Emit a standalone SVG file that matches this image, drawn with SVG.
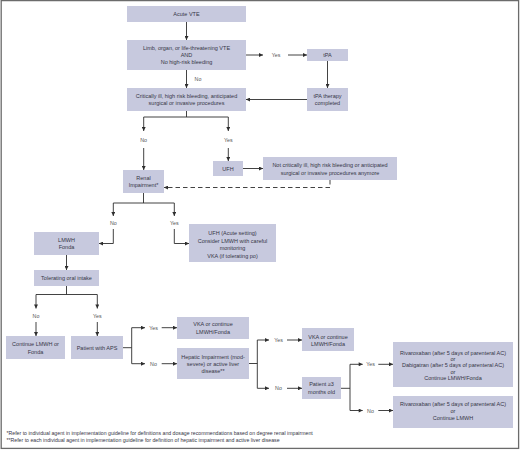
<svg xmlns="http://www.w3.org/2000/svg" width="520" height="450" viewBox="0 0 520 450">
<defs>
<marker id="ah" viewBox="0 0 10 10" refX="10" refY="5" markerWidth="4.5" markerHeight="4" markerUnits="userSpaceOnUse" orient="auto">
<path d="M0,0 L10,5 L0,10 z" fill="#2e2e2e"/>
</marker>
<style>
.box{fill:#c7c9de;}
.t{font-family:"Liberation Sans",Arial,sans-serif;font-size:5.5px;fill:#363646;text-anchor:middle;dominant-baseline:central;}
.lbl{font-family:"Liberation Sans",Arial,sans-serif;font-size:5.3px;fill:#555;text-anchor:middle;dominant-baseline:central;}
.fn{font-family:"Liberation Sans",Arial,sans-serif;font-size:5.2px;fill:#363646;dominant-baseline:central;}
.c{fill:none;stroke:#2e2e2e;stroke-width:0.9;}
.a{marker-end:url(#ah);}
.d{stroke-dasharray:4.5,3;}
</style>
</defs>
<rect x="0" y="0" width="520" height="450" fill="#fff"/>
<rect x="1.2" y="0.6" width="517.4" height="447.8" fill="none" stroke="#6b6b6b" stroke-width="1.3"/>

<g id="connectors">
<path class="c a" d="M186.5,22 V40"/>
<path class="c a" d="M246,55 H263"/>
<path class="c a" d="M288,55 H307"/>
<path class="c a" d="M327.5,61 V88"/>
<path class="c a" d="M307,99.5 H246"/>
<path class="c a" d="M186.5,70 V88"/>
<path class="c" d="M186.5,111 V117 M143.7,117 H228.3"/>
<path class="c a" d="M143.7,117 V131"/>
<path class="c a" d="M228.3,117 V131"/>
<path class="c a" d="M143.7,148 V170"/>
<path class="c a" d="M228.3,148 V161"/>
<path class="c a" d="M243,168.5 H263"/>
<path class="c a d" d="M330,180 V187.5 H164"/>
<path class="c" d="M143.5,193 V203 M113.3,203 H174.3"/>
<path class="c a" d="M113.3,203 V216"/>
<path class="c a" d="M174.3,203 V216"/>
<path class="c a" d="M113.3,229 V243.5 H99"/>
<path class="c a" d="M174.3,229 V243.5 H189"/>
<path class="c a" d="M66.5,255 V270"/>
<path class="c" d="M66.5,286 V294.5 M36,294.5 H97.3"/>
<path class="c a" d="M36,294.5 V308.5"/>
<path class="c a" d="M97.3,294.5 V308.5"/>
<path class="c a" d="M36,322 V336"/>
<path class="c a" d="M97.3,322 V336"/>
<path class="c" d="M123,347.7 H131.7 M131.7,327.7 V363.7"/>
<path class="c a" d="M131.7,327.7 H145"/>
<path class="c a" d="M131.7,363.7 H145"/>
<path class="c a" d="M161.7,327.7 H177"/>
<path class="c a" d="M161.7,363.7 H177"/>
<path class="c" d="M249,363.5 H257.3 M257.3,340 V388.3"/>
<path class="c a" d="M257.3,340 H269"/>
<path class="c a" d="M257.3,388.3 H269"/>
<path class="c a" d="M287,340 H302"/>
<path class="c a" d="M287,388.3 H302"/>
<path class="c" d="M341,388.3 H350 M350,364.3 V410.5"/>
<path class="c a" d="M350,364.3 H362.7"/>
<path class="c a" d="M350,410.5 H362.7"/>
<path class="c a" d="M378.3,364.3 H393"/>
<path class="c a" d="M378.3,410.5 H393"/>
<text class="lbl" x="276" y="55">Yes</text>
<text class="lbl" x="198" y="79">No</text>
<text class="lbl" x="143.7" y="140">No</text>
<text class="lbl" x="228.3" y="140">Yes</text>
<text class="lbl" x="113.3" y="223">No</text>
<text class="lbl" x="174.3" y="223">Yes</text>
<text class="lbl" x="36" y="316">No</text>
<text class="lbl" x="97.3" y="316">Yes</text>
<text class="lbl" x="153.5" y="327.7">Yes</text>
<text class="lbl" x="153.5" y="363.7">No</text>
<text class="lbl" x="278.5" y="340">Yes</text>
<text class="lbl" x="278.5" y="388.3">No</text>
<text class="lbl" x="370.5" y="364.3">Yes</text>
<text class="lbl" x="370.5" y="410.5">No</text>
</g>

<g id="acute-vte"><rect class="box" x="127" y="6" width="119" height="16"/><text class="t" x="186.5" y="14">Acute VTE</text></g>
<g id="limb"><rect class="box" x="127" y="40" width="119" height="30"/><text class="t" x="186.5" y="47.7">Limb, organ, or life-threatening VTE</text><text class="t" x="186.5" y="54.5">AND</text><text class="t" x="186.5" y="61.7">No high-risk bleeding</text></g>
<g id="tpa"><rect class="box" x="307" y="49" width="41" height="12"/><text class="t" x="327.5" y="55">tPA</text></g>
<g id="tpa-completed"><rect class="box" x="307" y="88" width="41" height="23"/><text class="t" x="327.5" y="95.7">tPA therapy</text><text class="t" x="327.5" y="103.3">completed</text></g>
<g id="critically-ill"><rect class="box" x="127" y="88" width="119" height="23"/><text class="t" x="186.5" y="95.7">Critically ill, high risk bleeding, anticipated</text><text class="t" x="186.5" y="103.3">surgical or invasive procedures</text></g>
<g id="renal"><rect class="box" x="123" y="170" width="41" height="23"/><text class="t" x="143.5" y="178">Renal</text><text class="t" x="143.5" y="185.3">Impairment*</text></g>
<g id="ufh"><rect class="box" x="213" y="161" width="30" height="15"/><text class="t" x="228" y="168.5">UFH</text></g>
<g id="not-critically"><rect class="box" x="263" y="157" width="134" height="23"/><text class="t" x="330" y="165">Not critically ill, high risk bleeding or anticipated</text><text class="t" x="330" y="172.5">surgical or invasive procedures anymore</text></g>
<g id="lmwh"><rect class="box" x="34" y="232" width="65" height="23"/><text class="t" x="66.5" y="239.5">LMWH</text><text class="t" x="66.5" y="247">Fonda</text></g>
<g id="ufh-acute"><rect class="box" x="189" y="224" width="87" height="38"/><text class="t" x="232.5" y="233.3">UFH (Acute setting)</text><text class="t" x="232.5" y="240.8">Consider LMWH with careful</text><text class="t" x="232.5" y="248.3">monitoring</text><text class="t" x="232.5" y="255.7">VKA (if tolerating po)</text></g>
<g id="tolerating"><rect class="box" x="34" y="270" width="65" height="16"/><text class="t" x="66.5" y="278">Tolerating oral intake</text></g>
<g id="continue-lmwh"><rect class="box" x="6" y="336" width="59" height="23"/><text class="t" x="35.5" y="344.3">Continue LMWH or</text><text class="t" x="35.5" y="351.7">Fonda</text></g>
<g id="aps"><rect class="box" x="71" y="336" width="52" height="23"/><text class="t" x="97" y="347.7">Patient with APS</text></g>
<g id="vka1"><rect class="box" x="177" y="317" width="72" height="22"/><text class="t" x="213" y="324.3">VKA or continue</text><text class="t" x="213" y="332">LMWH/Fonda</text></g>
<g id="hepatic"><rect class="box" x="177" y="348" width="72" height="31"/><text class="t" x="213" y="356.5">Hepatic Impairment (mod-</text><text class="t" x="213" y="363.8">severe) or active liver</text><text class="t" x="213" y="371">disease**</text></g>
<g id="vka2"><rect class="box" x="302" y="328" width="52" height="23"/><text class="t" x="328" y="336.5">VKA or continue</text><text class="t" x="328" y="344">LMWH/Fonda</text></g>
<g id="age"><rect class="box" x="302" y="377" width="39" height="22"/><text class="t" x="321.5" y="384.2">Patient ≥3</text><text class="t" x="321.5" y="391.7">months old</text></g>
<g id="riva1"><rect class="box" x="393" y="342" width="120" height="45"/><text class="t" x="453" y="352.5">Rivaroxaban (after 5 days of parenteral AC)</text><text class="t" x="453" y="358.8">or</text><text class="t" x="453" y="365.2">Dabigatran (after 5 days of parenteral AC)</text><text class="t" x="453" y="371.5">or</text><text class="t" x="453" y="378.3">Continue LMWH/Fonda</text></g>
<g id="riva2"><rect class="box" x="393" y="396" width="120" height="32"/><text class="t" x="453" y="404">Rivaroxaban (after 5 days of parenteral AC)</text><text class="t" x="453" y="411">or</text><text class="t" x="453" y="418.3">Continue LMWH</text></g>

<g id="footnotes">
<text class="fn" x="6.5" y="432.5">*Refer to individual agent in implementation guideline for definitions and dosage recommendations based on degree renal impairment</text>
<text class="fn" x="6.5" y="439.8">**Refer to each individual agent in implementation guideline for definition of hepatic impairment and active liver disease</text>
</g>
</svg>
